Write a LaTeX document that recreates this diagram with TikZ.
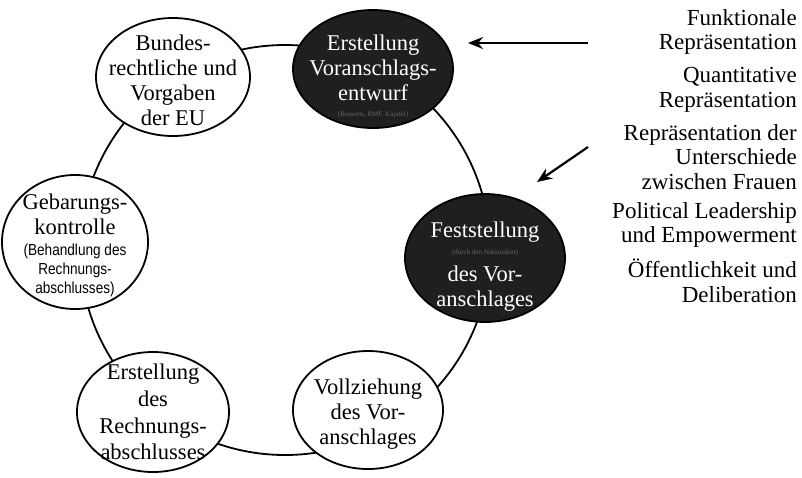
\documentclass[tikz,border=0pt]{standalone}
\usepackage{fontspec}
\setmainfont{Liberation Serif}
\newfontfamily\narrowsans[FakeStretch=0.85]{Liberation Sans}
\usetikzlibrary{shapes.geometric}
\usetikzlibrary{arrows.meta}
\usetikzlibrary{positioning}

\tikzset{
  phase/.style={ellipse, draw, line width=1.8pt, fill=white, inner sep=0pt},
  darkphase/.style={phase, fill=black!88},
  phasetext/.style={align=center, inner sep=0pt, font=\fontsize{22.5}{25}\selectfont},
  darktext/.style={phasetext, text=white},
  hint/.style={inner sep=0pt, font=\fontsize{7}{8}\selectfont, text=black!60},
  smalltext/.style={align=center, inner sep=0pt, font=\narrowsans\fontsize{16}{19}\selectfont},
  aspect/.style={anchor=east, align=right, inner sep=0pt, font=\fontsize{23}{24.5}\selectfont},
  pointer/.style={line width=2.2pt, -{Stealth[length=15pt,width=12pt]}}
}

\begin{document}
\begin{tikzpicture}[x=1pt, y=-1pt]
\useasboundingbox (0,0) rectangle (802,477);

%---------------------------------------
% Budget cycle ring
%---------------------------------------
\draw[line width=1.8pt] (285,250) circle[radius=205];

% Phases (white)
\node[phase, minimum width=154, minimum height=118] (bund) at (173,77) {};
\node[phasetext] (bundtext) at (173,80) {Bundes-\\rechtliche und\\Vorgaben\\der EU};

\node[phase, minimum width=146, minimum height=134] (geb) at (75,242) {};
\node[phasetext] (gebtext) at (75,214) {Gebarungs-\\kontrolle};
\node[smalltext] (gebsmall) at (75,270) {(Behandlung des\\Rechnungs-\\abschlusses)};

\node[phase, minimum width=152, minimum height=120] (rech) at (153,412) {};
\node[phasetext] (rechtext) at (153,412) {Erstellung\\[1.7pt]des\\[1.7pt]Rechnungs-\\[1.7pt]abschlusses};

\node[phase, minimum width=150, minimum height=118] (voll) at (368,410) {};
\node[phasetext] (volltext) at (368,414) {Vollziehung\\des Vor-\\anschlages};

% Phases (dark)
\node[darkphase, minimum width=160, minimum height=118] (erst) at (373,69) {};
\node[darktext] (ersttext) at (373,68) {Erstellung\\Voranschlags-\\entwurf};
\node[hint] (ersthint) at (373,115) {(Ressorts, BMF, Kapitel)};

\node[darkphase, minimum width=160, minimum height=128] (fest) at (485,258) {};
\node[darktext] (festtext) at (485,232) {Feststellung};
\node[hint] (festhint) at (485,253) {(durch den Nationalrat)};
\node[darktext] (festtext2) at (485,289) {des Vor-\\anschlages};

%---------------------------------------
% Aspects of representation
%---------------------------------------
\node[aspect] (funk)  at (797,32)  {Funktionale\\Repräsentation};
\node[aspect] (quant) at (797,90)  {Quantitative\\Repräsentation};
\node[aspect] (unter) at (797,157) {Repräsentation der\\Unterschiede\\zwischen Frauen};
\node[aspect] (lead)  at (797,225) {Political Leadership\\und Empowerment};
\node[aspect] (oeff)  at (797,281) {Öffentlichkeit und\\Deliberation};

% Arrows into the cycle
\coordinate (tailA) at (588,43);
\coordinate (tipA)  at (468,43);
\coordinate (tailB) at (588,147);
\coordinate (tipB)  at (537,182);
\draw[pointer] (tailA) -- (tipA);
\draw[pointer] (tailB) -- (tipB);

\end{tikzpicture}
\end{document}
